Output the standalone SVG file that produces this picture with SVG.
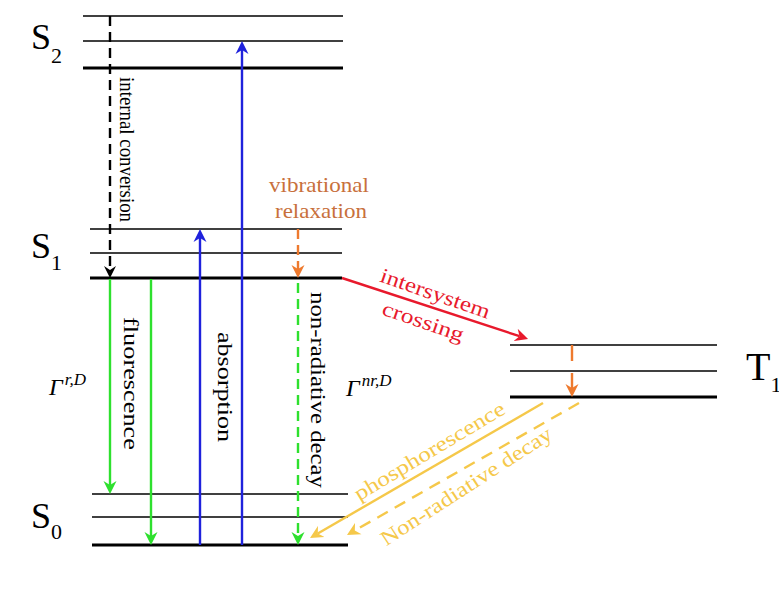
<svg xmlns="http://www.w3.org/2000/svg" width="779" height="602" viewBox="0 0 779 602">
  <style>
    .lvl { stroke: #000; stroke-width: 1.6; fill: none; }
    .lvl0 { stroke: #000; stroke-width: 3.2; fill: none; }
    text { font-family: 'Liberation Serif', 'Times New Roman', Times, serif; }
    .lbl { fill: #000; }
    .txt { font-size: 21px; }
    .rate { font-style: italic; fill: #000; }
    .c { fill: none; stroke-width: 2.4; }
  </style>
  <defs>
    <marker id="hBlack" viewBox="-13 -7 14 14" refX="-9" refY="0" markerWidth="14" markerHeight="14" markerUnits="userSpaceOnUse" orient="auto">
      <path d="M0,0 L-12,-6 L-8,0 L-12,6 Z" fill="#000"/>
    </marker>
    <marker id="hBlue" viewBox="-13 -7 14 14" refX="-9" refY="0" markerWidth="14" markerHeight="14" markerUnits="userSpaceOnUse" orient="auto">
      <path d="M0,0 L-13,-6.5 L-9,0 L-13,6.5 Z" fill="#1f22dc"/>
    </marker>
    <marker id="hGreen" viewBox="-13 -7 14 14" refX="-9" refY="0" markerWidth="14" markerHeight="14" markerUnits="userSpaceOnUse" orient="auto">
      <path d="M0,0 L-13,-6.5 L-9,0 L-13,6.5 Z" fill="#2ee02e"/>
    </marker>
    <marker id="hOrange" viewBox="-13 -7 14 14" refX="-9" refY="0" markerWidth="14" markerHeight="14" markerUnits="userSpaceOnUse" orient="auto">
      <path d="M0,0 L-13,-6.5 L-9,0 L-13,6.5 Z" fill="#ee7a2e"/>
    </marker>
    <marker id="hRed" viewBox="-13 -7 14 14" refX="-9" refY="0" markerWidth="14" markerHeight="14" markerUnits="userSpaceOnUse" orient="auto">
      <path d="M0,0 L-13,-6.5 L-9,0 L-13,6.5 Z" fill="#e8192c"/>
    </marker>
    <marker id="hYellow" viewBox="-13 -7 14 14" refX="-9" refY="0" markerWidth="14" markerHeight="14" markerUnits="userSpaceOnUse" orient="auto">
      <path d="M0,0 L-13,-6.5 L-9,0 L-13,6.5 Z" fill="#f5c84a"/>
    </marker>
  </defs>

  <rect width="779" height="602" fill="#fff"/>

  <!-- energy levels -->
  <g id="S2">
    <line class="lvl" x1="83" y1="16" x2="343" y2="16"/>
    <line class="lvl" x1="83" y1="41" x2="343" y2="41"/>
    <line class="lvl0" x1="83" y1="68" x2="343" y2="68"/>
    <text class="lbl" x="31" y="49" font-size="36">S<tspan font-size="22" dy="14">2</tspan></text>
  </g>
  <g id="S1">
    <line class="lvl" x1="90" y1="229" x2="342" y2="229"/>
    <line class="lvl" x1="90" y1="253" x2="342" y2="253"/>
    <line class="lvl0" x1="90" y1="278" x2="342" y2="278"/>
    <text class="lbl" x="31" y="258" font-size="36">S<tspan font-size="22" dy="12">1</tspan></text>
  </g>
  <g id="S0">
    <line class="lvl" x1="92" y1="494" x2="348" y2="494"/>
    <line class="lvl" x1="92" y1="517" x2="348" y2="517"/>
    <line class="lvl0" x1="92" y1="545" x2="348" y2="545"/>
    <text class="lbl" x="31" y="528" font-size="36">S<tspan font-size="22" dy="11">0</tspan></text>
  </g>
  <g id="T1">
    <line class="lvl" x1="510" y1="345" x2="717" y2="345"/>
    <line class="lvl" x1="510" y1="371" x2="717" y2="371"/>
    <line class="lvl0" x1="510" y1="397" x2="717" y2="397"/>
    <text class="lbl" x="746" y="380" font-size="40">T<tspan font-size="22" dy="12">1</tspan></text>
  </g>

  <!-- transitions -->
  <g id="connectors">
    <line class="c" stroke="#000" stroke-dasharray="10 6" x1="110" y1="16" x2="110" y2="269" marker-end="url(#hBlack)"/>
    <line class="c" stroke="#1f22dc" x1="200" y1="545" x2="200" y2="238" marker-end="url(#hBlue)"/>
    <line class="c" stroke="#1f22dc" x1="242" y1="545" x2="242" y2="50" marker-end="url(#hBlue)"/>
    <line class="c" stroke="#2ee02e" x1="110" y1="279" x2="110" y2="485" marker-end="url(#hGreen)"/>
    <line class="c" stroke="#2ee02e" x1="151" y1="279" x2="151" y2="536" marker-end="url(#hGreen)"/>
    <line class="c" stroke="#2ee02e" stroke-dasharray="10 6" x1="298" y1="283" x2="298" y2="536" marker-end="url(#hGreen)"/>
    <line class="c" stroke="#ee7a2e" stroke-dasharray="10 6" x1="298" y1="229" x2="298" y2="269" marker-end="url(#hOrange)"/>
    <line class="c" stroke="#ee7a2e" stroke-dasharray="16 12" x1="572" y1="345" x2="572" y2="388" marker-end="url(#hOrange)"/>
    <line class="c" stroke="#e8192c" stroke-width="2" x1="342" y1="278" x2="519.5" y2="336.2" marker-end="url(#hRed)"/>
    <line class="c" stroke="#f5c84a" stroke-width="2" x1="543" y1="403" x2="317.8" y2="533.5" marker-end="url(#hYellow)"/>
    <line class="c" stroke="#f5c84a" stroke-width="2" stroke-dasharray="12 8" x1="579" y1="403" x2="354.8" y2="530.5" marker-end="url(#hYellow)"/>
  </g>

  <!-- transition labels -->
  <g id="labels">
    <text class="txt" fill="#000" font-size="19" transform="translate(120,77) rotate(90)" textLength="145" lengthAdjust="spacingAndGlyphs">internal conversion</text>
    <text class="txt" fill="#000" font-size="22" transform="translate(124,317) rotate(90)" textLength="133" lengthAdjust="spacingAndGlyphs">fluorescence</text>
    <text class="txt" fill="#000" font-size="24" transform="translate(218,332) rotate(90)" textLength="110" lengthAdjust="spacingAndGlyphs">absorption</text>
    <text class="txt" fill="#000" font-size="22" transform="translate(311,292) rotate(90)" textLength="196" lengthAdjust="spacingAndGlyphs">non-radiative decay</text>
    <text class="txt" fill="#c8703c" font-size="22" text-anchor="middle" x="319" y="192" textLength="100" lengthAdjust="spacingAndGlyphs">vibrational</text>
    <text class="txt" fill="#c8703c" font-size="22" text-anchor="middle" x="321" y="218" textLength="92" lengthAdjust="spacingAndGlyphs">relaxation</text>
    <text class="txt" fill="#e8192c" font-size="22" text-anchor="middle" transform="translate(433,300) rotate(19)" textLength="115" lengthAdjust="spacingAndGlyphs">intersystem</text>
    <text class="txt" fill="#e8192c" font-size="22" text-anchor="middle" transform="translate(421,328) rotate(19)" textLength="85" lengthAdjust="spacingAndGlyphs">crossing</text>
    <text class="txt" fill="#f5c84a" font-size="22" text-anchor="middle" transform="translate(433,457) rotate(-31)" textLength="172" lengthAdjust="spacingAndGlyphs">phosphorescence</text>
    <text class="txt" fill="#f5c84a" font-size="22" text-anchor="middle" transform="translate(470,492) rotate(-33)" textLength="200" lengthAdjust="spacingAndGlyphs">Non-radiative decay</text>
    <text class="rate" x="49" y="395" font-size="24">Γ<tspan font-size="17" dx="2" dy="-10">r,D</tspan></text>
    <text class="rate" x="346" y="396" font-size="24">Γ<tspan font-size="17" dx="2" dy="-10">nr,D</tspan></text>
  </g>
</svg>
